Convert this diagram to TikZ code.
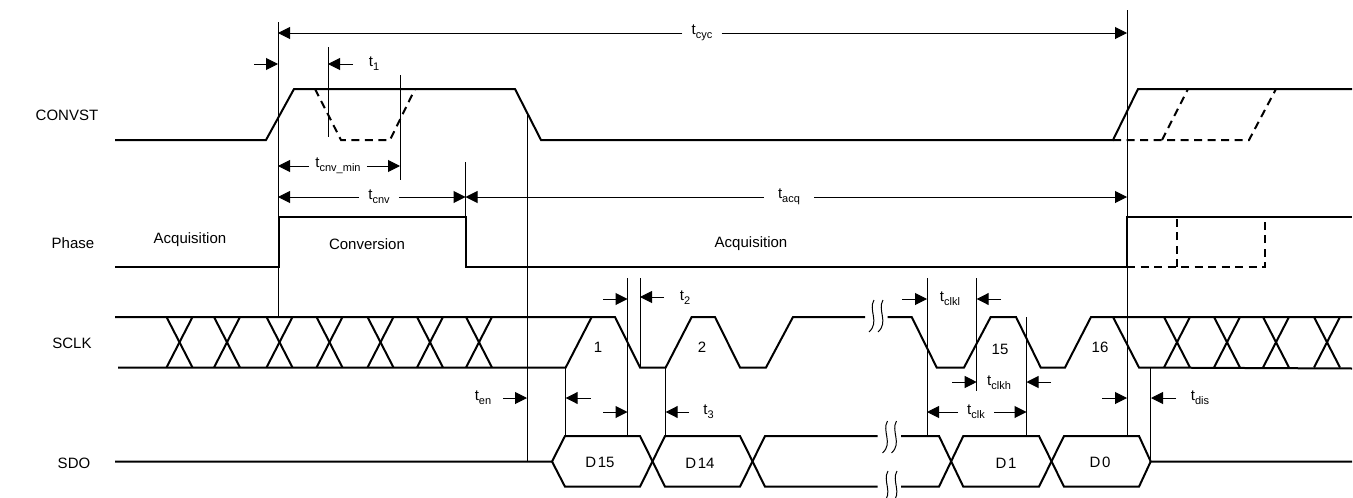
\documentclass[tikz,border=0pt]{standalone}
\usepackage{fontspec}
\setmainfont{Liberation Sans}
\usetikzlibrary{arrows.meta}
\newcommand{\tsub}[1]{t\raisebox{-4pt}{\fontsize{11}{11}\selectfont #1}}

\begin{document}
\begin{tikzpicture}[x=1pt,y=-1pt,
 wave/.style={line width=2pt},
 wavedash/.style={line width=2pt,dash pattern=on 8pt off 5.5pt},
 guide/.style={line width=1pt},
 dim/.style={line width=1pt,-{Triangle[length=12pt,width=12pt]}},
 lab/.style={font=\fontsize{15}{18}\selectfont,inner xsep=9pt,inner ysep=0pt},
 squig/.pic={\draw[guide] (-2,-16) .. controls (-8,-6) and (4,6) .. (-7,16);
  \draw[guide] (7,-16) .. controls (1,-6) and (13,6) .. (2,16);}]
\useasboundingbox (0,0) rectangle (1353,498);
% signal names
\node[lab] (convst) at (67,115) {CONVST};
\node[lab] (phase) at (73,243) {Phase};
\node[lab] (sclk) at (72,343) {SCLK};
\node[lab] (sdo) at (74,463) {SDO};
% guides
\coordinate (g1) at (278,22);
\coordinate (g2) at (1127,10);
\coordinate (g3) at (400,75);
\coordinate (g4) at (465.5,162);
\coordinate (g5) at (927,278);
\coordinate (g6) at (976.7,278);
\coordinate (g7) at (1026.5,317);
\draw[guide] (g1)--(278,317);
\draw[guide] (g2)--(1127,436);
\draw[guide] (527,113)--(527,461);
\draw[guide] (328,47)--(328,137);
\draw[guide] (g3)--(400,180);
\draw[guide] (g4)--(465.5,217);
\draw[guide] (565.7,367.5)--(565.7,436);
\draw[guide] (627.5,278)--(627.5,436);
\draw[guide] (640,278)--(640,367.5);
\draw[guide] (665.5,367.5)--(665.5,436);
\draw[guide] (g5)--(927,436);
\draw[guide] (g6)--(976.7,391);
\draw[guide] (g7)--(1026.5,436);
\draw[guide] (1150.7,367.5)--(1150.7,461);
% CONVST
\draw[wave] (115,140)--(266,140)--(294,89)--(515,89)--(541,140)--(1113,140)--(1138,89)--(1352,89);
\draw[wavedash] (315,89)--(341,140)--(390,140)--(415,89);
\draw[wavedash] (1113,140)--(1249,140)--(1276,89);
\draw[wavedash] (1162,140)--(1188,89);
% Phase
\draw[wave] (115,267)--(279,267)--(279,217)--(466,217)--(466,267)--(1127,267)--(1127,217)--(1352,217);
\draw[wavedash] (1127,267)--(1265,267)--(1265,217);
\draw[wavedash] (1177,267)--(1177,217);
% SCLK
\draw[wave] (115,317)--(615,317)--(640,367.5)--(665.7,367.5)--(691.7,317)--(715,317)--(740,367.5)--(766,367.5)--(793,317)--(865,317);
\draw[wave] (887.7,317)--(911.7,317)--(936.7,367.5)--(964,367.5)--(990.7,317)--(1016,317)--(1040.7,367.5)--(1065,367.5)--(1091,317)--(1352,317);
\draw[wave] (118,367.5)--(565.7,367.5)--(591.7,317);
\draw[wave] (1113,317)--(1139,367.5)--(1352,368.5);
\foreach \x in {166.5,214,266.5,316.5,367.5,417,466,1164,1214,1263,1314}
 {\draw[wave] (\x,317)--++(26,50.5);\draw[wave] (\x+26,317)--++(-26,50.5);}
% SDO
\draw[wave] (115,461.5)--(552,461.5)--(565,436)--(640,436)--(665,486.7)--(740,486.7)--(765,436)--(877.7,436);
\draw[wave] (552,461.5)--(565,486.7)--(640,486.7)--(665,436)--(740,436)--(765,486.7)--(877.7,486.7);
\draw[wave] (901,436)--(939,436)--(963.3,486.7)--(1039,486.7)--(1064,436)--(1139,436)--(1150.7,461.5)--(1352,461.5);
\draw[wave] (901,486.7)--(939,486.7)--(963.3,436)--(1039,436)--(1064,486.7)--(1139,486.7)--(1150.7,461.5);
% breaks
\path (876,316) pic {squig} (889.5,437) pic {squig} (890,487) pic {squig};
% dimensions with a label between
\node[lab] (tcyc) at (702,33) {\tsub{cyc}};
\draw[dim] (tcyc)--(tcyc-|g1);
\draw[dim] (tcyc)--(tcyc-|g2);
\node[lab,inner xsep=6pt] (tcnvmin) at (338,166) {\tsub{cnv\_min}};
\draw[dim] (tcnvmin)--(tcnvmin-|g1);
\draw[dim] (tcnvmin)--(tcnvmin-|g3);
\node[lab] (tcnv) at (379,197) {\tsub{cnv}};
\draw[dim] (tcnv)--(tcnv-|g1);
\draw[dim] (tcnv)--(tcnv-|g4);
\node[lab,inner xsep=14pt] (tacq) at (789,197) {\tsub{acq}};
\draw[dim] (tacq)--(tacq-|g4);
\draw[dim] (tacq)--(tacq-|g2);
\node[lab] (tclk) at (976,412) {\tsub{clk}};
\draw[dim] (tclk)--(tclk-|g5);
\draw[dim] (tclk)--(tclk-|g7);
% outside arrows
\foreach \a/\b/\y in {254/278/64,353/328/64,603/627.5/299,664/640/297,590.7/565.7/398,603/627.5/412,689/665.7/412,
 503/527/398,902/927/299,1001/976.7/299,952/976.7/382,1051/1026.5/382,1102/1127/398,1176/1151/398}
 \draw[dim] (\a,\y)--(\b,\y);
% timing labels
\node[lab] (t1) at (374,64) {\tsub{1}};
\node[lab] (t2) at (685,298) {\tsub{2}};
\node[lab] (t3) at (708.5,412) {\tsub{3}};
\node[lab] (ten) at (483,398) {\tsub{en}};
\node[lab] (tclkl) at (950,299) {\tsub{clkl}};
\node[lab] (tclkh) at (999,383) {\tsub{clkh}};
\node[lab] (tdis) at (1200,398) {\tsub{dis}};
% phases, clock counts, data
\node[lab] (acq1) at (190,240) {Acquisition};
\node[lab] (conv) at (367,244) {Conversion};
\node[lab] (acq2) at (751,244) {Acquisition};
\node[lab] (c1) at (598,347) {1};
\node[lab] (c2) at (702,347) {2};
\node[lab] (c15) at (1000,349) {15};
\node[lab] (c16) at (1100,347) {16};
\node[lab] (d15) at (600,462) {D\kern1.5pt 15};
\node[lab] (d14) at (700,463) {D\kern1.5pt 14};
\node[lab] (d1) at (1006,463) {D\kern1.5pt 1};
\node[lab] (d0) at (1100,462) {D\kern1.5pt 0};
\end{tikzpicture}
\end{document}
